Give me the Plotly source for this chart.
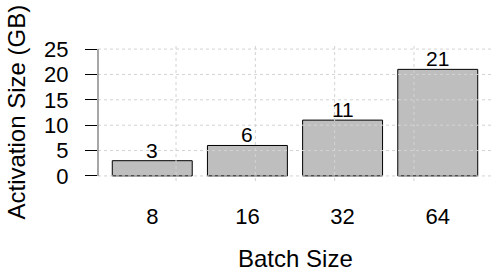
import plotly.graph_objects as go

batch_sizes = ["8", "16", "32", "64"]
activation_gb = [3, 6, 11, 21]
y_ticks = [0, 5, 10, 15, 20, 25]
# R-style bar layout: width 1, space 0.2 -> centers at 0.7 + 1.2*i
v_grid_r = [1, 2, 3, 4]

FONT = "Liberation Sans, Arial, sans-serif"

fig = go.Figure()
fig.add_trace(go.Bar(
    x=batch_sizes, y=activation_gb,
    marker=dict(color="#bebebe", line=dict(color="black", width=1)),
    width=0.84, hoverinfo="skip",
))

shapes = []
for yv in y_ticks:
    shapes.append(dict(type="line", xref="paper", yref="y", x0=0, x1=1, y0=yv, y1=yv,
                       line=dict(color="#d3d3d3", width=1, dash="3px,3px"), layer="above"))
for xr in v_grid_r:
    xc = (xr - 0.7) / 1.2
    shapes.append(dict(type="line", xref="x", yref="paper", x0=xc, x1=xc, y0=0, y1=1,
                       line=dict(color="#d3d3d3", width=1, dash="3px,3px"), layer="above"))
# y axis line from 0 to 25
shapes.append(dict(type="line", xref="paper", yref="y", x0=0, x1=0, y0=y_ticks[0], y1=y_ticks[-1],
                   line=dict(color="#8a8a8a", width=1.5), layer="above"))

annotations = []
for i, val in enumerate(activation_gb):
    annotations.append(dict(x=i, y=val, xref="x", yref="y", text=str(val), showarrow=False,
                            yanchor="bottom", yshift=-3, font=dict(size=21, color="black")))
annotations.append(dict(text="Activation Size (GB)", xref="paper", yref="paper", x=0, y=0.5,
                        xanchor="center", yanchor="middle", xshift=-82, textangle=-90,
                        showarrow=False, font=dict(size=24, color="black")))
annotations.append(dict(text="Batch Size", xref="paper", yref="paper", x=0.5, y=0,
                        xanchor="center", yanchor="middle", yshift=-77,
                        showarrow=False, font=dict(size=24, color="black")))

fig.update_layout(
    width=494, height=274,
    margin=dict(l=98, r=2, t=44, b=93),
    paper_bgcolor="white", plot_bgcolor="white",
    font=dict(family=FONT, size=22, color="black"),
    showlegend=False,
    shapes=shapes,
    annotations=annotations,
    xaxis=dict(type="category", range=[-0.57, 3.57], showline=False, showgrid=False,
               ticks="", zeroline=False, tickfont=dict(size=22), automargin=False,
               ticklabelstandoff=20),
    yaxis=dict(range=[-1, 26], tickvals=y_ticks, showgrid=False, zeroline=False,
               showline=False, ticks="outside", ticklen=12, tickcolor="black", tickwidth=1,
               ticklabelstandoff=12, tickfont=dict(size=22), automargin=False),
)

fig.write_html("out.html", config={"displayModeBar": False},
               post_script="document.body.style.margin='0';document.body.style.overflow='hidden';")
